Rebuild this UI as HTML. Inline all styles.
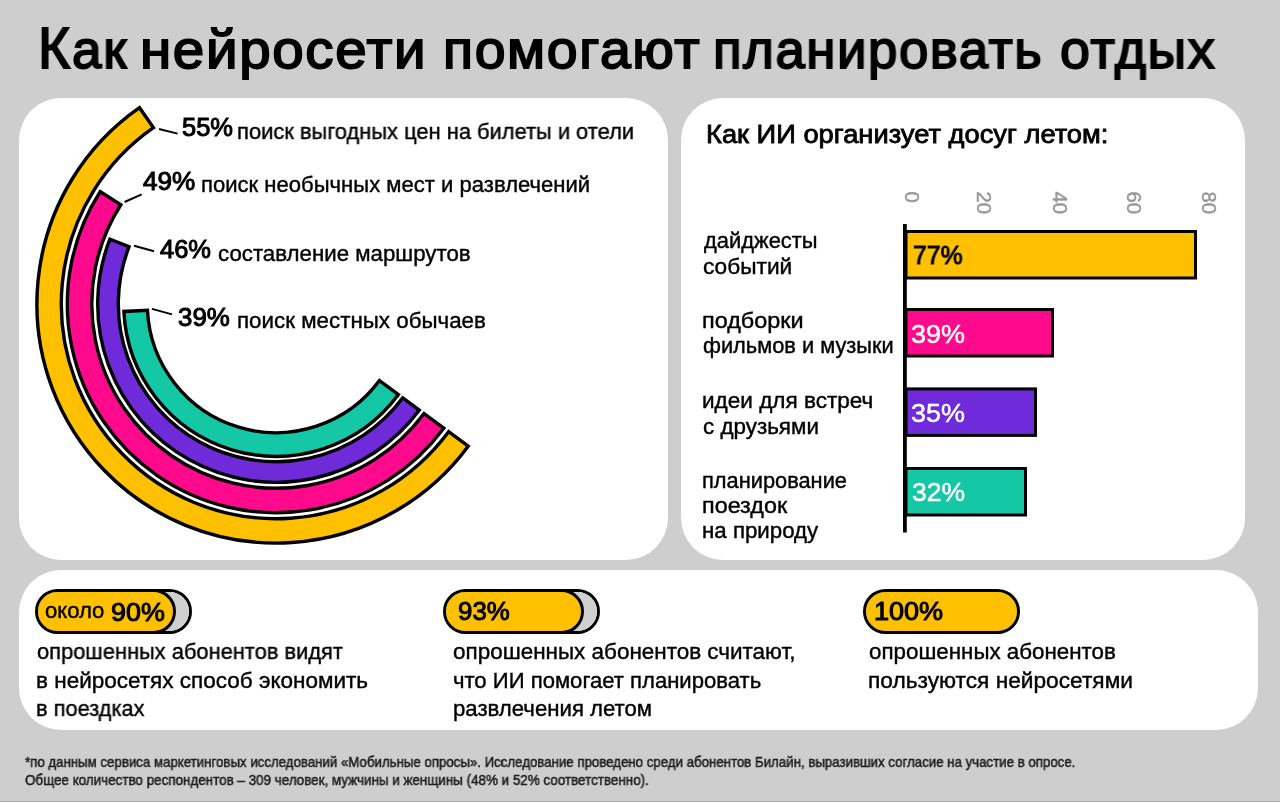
<!DOCTYPE html>
<html><head><meta charset="utf-8">
<style>
html,body{margin:0;padding:0;}
body{width:1280px;height:802px;overflow:hidden;background:#cecece;position:relative;font-family:"Liberation Sans",sans-serif;color:#000;}
.t{position:absolute;white-space:nowrap;line-height:1;transform-origin:0 0;will-change:transform;}
.card{position:absolute;background:#fff;border-radius:42px;}
.pill{position:absolute;top:589px;width:157px;height:44.5px;box-sizing:border-box;border:3px solid #000;border-radius:23px;background:#fff;overflow:hidden;}
.pill .gray{position:absolute;left:0;top:0;right:0;bottom:0;background:#d0d0d0;}
.pill .yel{position:absolute;left:-3px;top:-3px;height:44.5px;box-sizing:border-box;border:3px solid #000;border-radius:23px;background:#ffc000;}
</style></head><body>
<div class="card" style="left:19px;top:98px;width:649px;height:462px;"></div>
<div class="card" style="left:681px;top:98px;width:564px;height:461.5px;"></div>
<div class="card" style="left:19px;top:570px;width:1239px;height:160px;"></div>
<svg style="position:absolute;left:0;top:0" width="1280" height="802" viewBox="0 0 1280 802">
<path d="M468.20,446.22 A239.10000000000002,239.10000000000002 0 1 1 139.54,107.66 L153.47,127.70 A214.7,214.7 0 1 0 448.59,431.71 Z" fill="#ffc000" stroke="#000" stroke-width="3.4"/>
<path d="M443.76,428.14 A208.70000000000002,208.70000000000002 0 0 1 100.18,191.56 L120.82,204.76 A184.2,184.2 0 0 0 424.07,413.57 Z" fill="#ff0a8c" stroke="#000" stroke-width="3.4"/>
<path d="M419.33,410.06 A178.3,178.3 0 0 1 109.88,239.23 L129.07,246.72 A157.7,157.7 0 0 0 402.77,397.80 Z" fill="#6f2bd9" stroke="#000" stroke-width="3.4"/>
<path d="M398.43,394.59 A152.3,152.3 0 0 1 123.88,311.44 L147.45,310.29 A128.7,128.7 0 0 0 379.46,380.55 Z" fill="#14c8a6" stroke="#000" stroke-width="3.4"/>
<g stroke="#000" stroke-width="2">
<line x1="159" y1="129" x2="177.6" y2="133.6"/>
<line x1="124.6" y1="202" x2="141.7" y2="194.4"/>
<line x1="134" y1="245.8" x2="154.1" y2="251.3"/>
<line x1="152" y1="308.9" x2="172" y2="314.4"/>
</g>
<rect x="903" y="224" width="3.8" height="308.5" fill="#000"/>
<rect x="906" y="231.5" width="289.5" height="46.5" fill="#ffc000" stroke="#000" stroke-width="3"/>
<rect x="906" y="309.5" width="146.5" height="46.5" fill="#ff0a8c" stroke="#000" stroke-width="3"/>
<rect x="906" y="388.9" width="129.5" height="46.5" fill="#6f2bd9" stroke="#000" stroke-width="3"/>
<rect x="906" y="468.5" width="119.5" height="46.5" fill="#14c8a6" stroke="#000" stroke-width="3"/>
</svg>
<svg style="position:absolute;left:0;top:0;will-change:transform" width="1280" height="802" viewBox="0 0 1280 802">
<text transform="translate(904.6,191.4) rotate(90)" font-size="20.3" fill="#989898" stroke="#989898" stroke-width="0.45" font-family="Liberation Sans">0</text>
<text transform="translate(976.6,191.4) rotate(90)" font-size="20.3" fill="#989898" stroke="#989898" stroke-width="0.45" font-family="Liberation Sans">20</text>
<text transform="translate(1052.5,191.4) rotate(90)" font-size="20.3" fill="#989898" stroke="#989898" stroke-width="0.45" font-family="Liberation Sans">40</text>
<text transform="translate(1127,191.4) rotate(90)" font-size="20.3" fill="#989898" stroke="#989898" stroke-width="0.45" font-family="Liberation Sans">60</text>
<text transform="translate(1202.3,191.4) rotate(90)" font-size="20.3" fill="#989898" stroke="#989898" stroke-width="0.45" font-family="Liberation Sans">80</text>

</svg>
<div class="pill" style="left:35px;"><div class="gray"></div><div class="yel" style="width:141px;"></div></div>
<div class="pill" style="left:443px;"><div class="gray"></div><div class="yel" style="width:140.7px;"></div></div>
<div class="pill" style="left:863px;"><div class="yel" style="width:157px;"></div></div>
<div class="t" style="left:38.07px;top:20.10px;font-size:57.4px;font-weight:400;color:#000;transform:scaleX(0.9597);-webkit-text-stroke:1.8px #000;">К</div>
<div class="t" style="left:72.02px;top:22.10px;font-size:54px;font-weight:400;color:#000;transform:scaleX(0.9836);letter-spacing:1.6px;-webkit-text-stroke:1.8px #000;">ак</div>
<div class="t" style="left:140.16px;top:22.10px;font-size:54px;font-weight:400;color:#000;transform:scaleX(1.0457);letter-spacing:1.6px;-webkit-text-stroke:1.8px #000;">нейросети</div>
<div class="t" style="left:442.62px;top:22.10px;font-size:54px;font-weight:400;color:#000;transform:scaleX(1.0259);letter-spacing:1.6px;-webkit-text-stroke:1.8px #000;">помогают</div>
<div class="t" style="left:713.17px;top:22.10px;font-size:54px;font-weight:400;color:#000;transform:scaleX(0.9765);letter-spacing:1.6px;-webkit-text-stroke:1.8px #000;">планировать</div>
<div class="t" style="left:1060.21px;top:22.10px;font-size:54px;font-weight:400;color:#000;transform:scaleX(0.9948);letter-spacing:1.6px;-webkit-text-stroke:1.8px #000;">отдых</div>
<div class="t" style="left:181.70px;top:115.40px;font-size:25.5px;font-weight:400;color:#000;transform:scaleX(0.9960);-webkit-text-stroke:1px #000;">55%</div>
<div class="t" style="left:237.21px;top:121.40px;font-size:22px;font-weight:400;color:#000;transform:scaleX(0.9950);-webkit-text-stroke:0.4px #000;">поиск выгодных цен на билеты и отели</div>
<div class="t" style="left:143.49px;top:169.30px;font-size:25.5px;font-weight:400;color:#000;transform:scaleX(1.0240);-webkit-text-stroke:1px #000;">49%</div>
<div class="t" style="left:201.19px;top:173.70px;font-size:22px;font-weight:400;color:#000;transform:scaleX(1.0031);-webkit-text-stroke:0.4px #000;">поиск необычных мест и развлечений</div>
<div class="t" style="left:159.80px;top:237.30px;font-size:25.5px;font-weight:400;color:#000;-webkit-text-stroke:1px #000;">46%</div>
<div class="t" style="left:217.79px;top:242.70px;font-size:22px;font-weight:400;color:#000;transform:scaleX(1.0121);-webkit-text-stroke:0.4px #000;">составление маршрутов</div>
<div class="t" style="left:177.59px;top:304.50px;font-size:25.5px;font-weight:400;color:#000;transform:scaleX(1.0160);-webkit-text-stroke:1px #000;">39%</div>
<div class="t" style="left:236.67px;top:309.90px;font-size:22px;font-weight:400;color:#000;transform:scaleX(1.0161);-webkit-text-stroke:0.4px #000;">поиск местных обычаев</div>
<div class="t" style="left:705.79px;top:121.70px;font-size:25.5px;font-weight:400;color:#000;transform:scaleX(1.0703);-webkit-text-stroke:0.8px #000;">Как ИИ организует досуг летом:</div>
<div class="t" style="left:704.20px;top:231.40px;font-size:21.5px;font-weight:400;color:#000;transform:scaleX(1.0190);-webkit-text-stroke:0.4px #000;">дайджесты</div>
<div class="t" style="left:703.16px;top:256.70px;font-size:21.5px;font-weight:400;color:#000;transform:scaleX(1.0558);-webkit-text-stroke:0.4px #000;">событий</div>
<div class="t" style="left:702.04px;top:310.80px;font-size:21.5px;font-weight:400;color:#000;transform:scaleX(1.0896);-webkit-text-stroke:0.4px #000;">подборки</div>
<div class="t" style="left:703.19px;top:336.10px;font-size:21.5px;font-weight:400;color:#000;transform:scaleX(1.0139);-webkit-text-stroke:0.4px #000;">фильмов и музыки</div>
<div class="t" style="left:702.11px;top:390.60px;font-size:21.5px;font-weight:400;color:#000;transform:scaleX(1.0486);-webkit-text-stroke:0.4px #000;">идеи для встреч</div>
<div class="t" style="left:703.17px;top:417.30px;font-size:21.5px;font-weight:400;color:#000;transform:scaleX(1.0420);-webkit-text-stroke:0.4px #000;">с друзьями</div>
<div class="t" style="left:702.17px;top:470.80px;font-size:21.5px;font-weight:400;color:#000;transform:scaleX(1.0142);-webkit-text-stroke:0.4px #000;">планирование</div>
<div class="t" style="left:702.04px;top:495.50px;font-size:21.5px;font-weight:400;color:#000;transform:scaleX(1.0864);-webkit-text-stroke:0.4px #000;">поездок</div>
<div class="t" style="left:702.13px;top:521.20px;font-size:21.5px;font-weight:400;color:#000;transform:scaleX(1.0362);-webkit-text-stroke:0.4px #000;">на природу</div>
<div class="t" style="left:913.43px;top:241.60px;font-size:26.5px;font-weight:400;color:#000;transform:scaleX(0.9346);-webkit-text-stroke:1px #000;">77%</div>
<div class="t" style="left:911.44px;top:320.55px;font-size:26.5px;font-weight:400;color:#fff;transform:scaleX(1.0175);-webkit-text-stroke:0.5px #fff;">39%</div>
<div class="t" style="left:911.44px;top:399.95px;font-size:26.5px;font-weight:400;color:#fff;transform:scaleX(1.0175);-webkit-text-stroke:0.5px #fff;">35%</div>
<div class="t" style="left:912.25px;top:479.45px;font-size:26.5px;font-weight:400;color:#fff;transform:scaleX(0.9942);-webkit-text-stroke:0.5px #fff;">32%</div>
<div class="t" style="left:44.60px;top:599.80px;font-size:22px;font-weight:400;color:#000;transform:scaleX(1.0035);-webkit-text-stroke:0.4px #000;">около</div>
<div class="t" style="left:110.97px;top:599.50px;font-size:25.5px;font-weight:400;color:#000;transform:scaleX(1.0540);-webkit-text-stroke:1px #000;">90%</div>
<div class="t" style="left:457.59px;top:599.30px;font-size:25.5px;font-weight:400;color:#000;transform:scaleX(1.0140);-webkit-text-stroke:1px #000;">93%</div>
<div class="t" style="left:873.71px;top:599.30px;font-size:25.5px;font-weight:400;color:#000;transform:scaleX(1.0603);-webkit-text-stroke:1px #000;">100%</div>
<div class="t" style="left:37.11px;top:640.90px;font-size:22px;font-weight:400;color:#000;transform:scaleX(0.9928);-webkit-text-stroke:0.4px #000;">опрошенных абонентов видят</div>
<div class="t" style="left:36.06px;top:670.00px;font-size:22px;font-weight:400;color:#000;transform:scaleX(1.0230);-webkit-text-stroke:0.4px #000;">в нейросетях способ экономить</div>
<div class="t" style="left:36.12px;top:698.10px;font-size:22px;font-weight:400;color:#000;transform:scaleX(0.9907);-webkit-text-stroke:0.4px #000;">в поездках</div>
<div class="t" style="left:452.58px;top:640.90px;font-size:22px;font-weight:400;color:#000;transform:scaleX(1.0207);-webkit-text-stroke:0.4px #000;">опрошенных абонентов считают,</div>
<div class="t" style="left:452.60px;top:670.00px;font-size:22px;font-weight:400;color:#000;transform:scaleX(1.0039);-webkit-text-stroke:0.4px #000;">что ИИ помогает планировать</div>
<div class="t" style="left:452.59px;top:698.10px;font-size:22px;font-weight:400;color:#000;transform:scaleX(1.0077);-webkit-text-stroke:0.4px #000;">развлечения летом</div>
<div class="t" style="left:868.99px;top:640.90px;font-size:22px;font-weight:400;color:#000;transform:scaleX(1.0157);-webkit-text-stroke:0.4px #000;">опрошенных абонентов</div>
<div class="t" style="left:867.94px;top:670.00px;font-size:22px;font-weight:400;color:#000;transform:scaleX(1.0320);-webkit-text-stroke:0.4px #000;">пользуются нейросетями</div>
<div class="t" style="left:25.30px;top:755.45px;font-size:14.2px;font-weight:400;color:#1e1e1e;transform:scaleX(0.9343);-webkit-text-stroke:0.5px #1e1e1e;">*по данным сервиса маркетинговых исследований «Мобильные опросы». Исследование проведено среди абонентов Билайн, выразивших согласие на участие в опросе.</div>
<div class="t" style="left:25.29px;top:772.85px;font-size:14.2px;font-weight:400;color:#1e1e1e;transform:scaleX(0.9456);-webkit-text-stroke:0.5px #1e1e1e;">Общее количество респондентов – 309 человек, мужчины и женщины (48% и 52% соответственно).</div>
<div style="position:absolute;left:0;top:801px;width:1280px;height:1px;background:#a8a8a8;"></div>
</body></html>
